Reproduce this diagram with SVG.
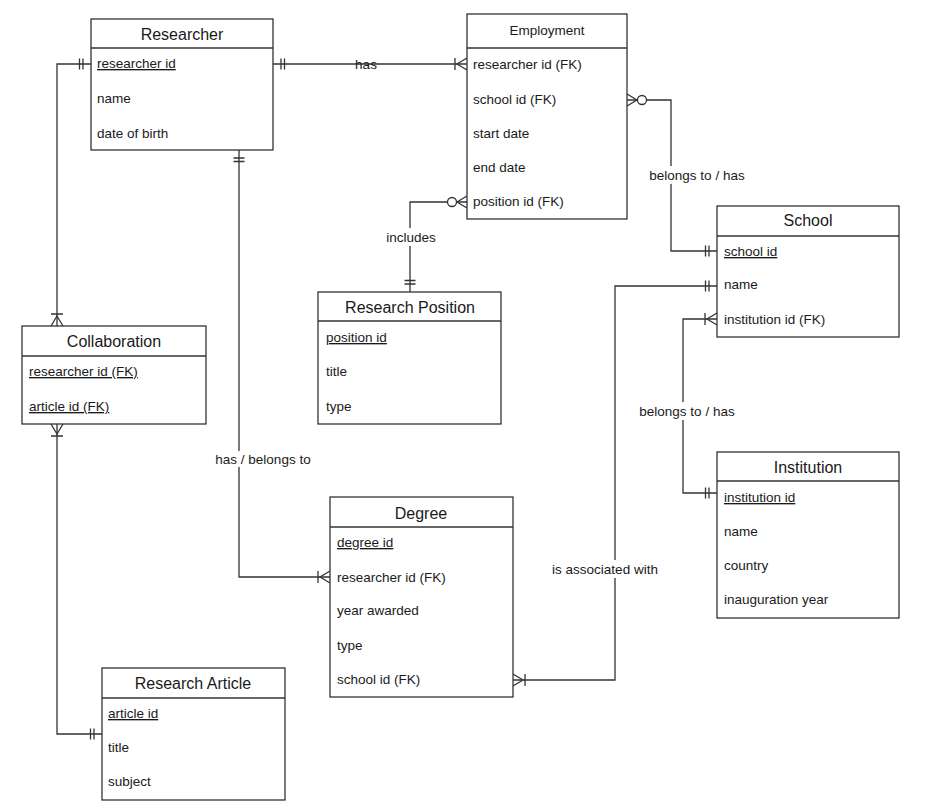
<svg xmlns="http://www.w3.org/2000/svg" width="928" height="812" viewBox="0 0 928 812">
<style>
.box{fill:#fff;stroke:#333;stroke-width:1.3}
.div{stroke:#333;stroke-width:1.3}
.t{font-family:"Liberation Sans",Arial,sans-serif;font-size:16px;fill:#1a1a1a;text-anchor:middle}
.ts{font-family:"Liberation Sans",Arial,sans-serif;font-size:13.5px;fill:#1a1a1a;text-anchor:middle}
.a{font-family:"Liberation Sans",Arial,sans-serif;font-size:13.5px;fill:#1a1a1a}
.u{text-decoration:underline}
.c{fill:none;stroke:#333;stroke-width:1.3}
.lb{font-family:"Liberation Sans",Arial,sans-serif;font-size:13.5px;fill:#1a1a1a;text-anchor:middle}
.bg{fill:#fff}
</style>
<defs>
<marker id="one" markerUnits="userSpaceOnUse" orient="auto-start-reverse" overflow="visible" markerWidth="1" markerHeight="1" refX="0" refY="0">
<path d="M-8,-5.5V5.5M-11.5,-5.5V5.5" fill="none" stroke="#333" stroke-width="1.3"/>
</marker>
<marker id="many1" markerUnits="userSpaceOnUse" orient="auto-start-reverse" overflow="visible" markerWidth="1" markerHeight="1" refX="0" refY="0">
<path d="M0,-6L-10,0L0,6M-12,-6V6" fill="none" stroke="#333" stroke-width="1.3"/>
</marker>
<marker id="many0" markerUnits="userSpaceOnUse" orient="auto-start-reverse" overflow="visible" markerWidth="1" markerHeight="1" refX="0" refY="0">
<path d="M0,-6L-10,0L0,6" fill="none" stroke="#333" stroke-width="1.3"/>
<circle cx="-15" cy="0" r="4.5" fill="#fff" stroke="#333" stroke-width="1.3"/>
</marker>
</defs>

<g id="connectors">
<path class="c" d="M273,64H467" marker-start="url(#one)" marker-end="url(#many1)"/>
<text class="lb" x="366" y="68.5">has</text>

<path class="c" d="M627,100H671V251H717" marker-start="url(#many0)" marker-end="url(#one)"/>
<rect class="bg" x="647" y="166" width="100" height="18"/>
<text class="lb" x="697" y="179.5">belongs to / has</text>

<path class="c" d="M467,202H410V292" marker-start="url(#many0)" marker-end="url(#one)"/>
<rect class="bg" x="386" y="228" width="50" height="18"/>
<text class="lb" x="411" y="241.5">includes</text>

<path class="c" d="M91,64H57V326" marker-start="url(#one)" marker-end="url(#many1)"/>

<path class="c" d="M57,424V734H102" marker-start="url(#many1)" marker-end="url(#one)"/>

<path class="c" d="M239,150V577H330" marker-start="url(#one)" marker-end="url(#many1)"/>
<rect class="bg" x="217" y="451" width="92" height="16"/>
<text class="lb" x="263" y="463.5">has / belongs to</text>

<path class="c" d="M513,680H615V286H717" marker-start="url(#many1)" marker-end="url(#one)"/>
<rect class="bg" x="553" y="560" width="104" height="18"/>
<text class="lb" x="605" y="573.5">is associated with</text>

<path class="c" d="M717,319H683V493H717" marker-start="url(#many1)" marker-end="url(#one)"/>
<rect class="bg" x="637" y="402" width="100" height="18"/>
<text class="lb" x="687" y="415.5">belongs to / has</text>
</g>

<g id="researcher">
<rect class="box" x="91" y="19" width="182" height="131"/>
<line class="div" x1="91" y1="48" x2="273" y2="48"/>
<text class="t" x="182" y="40">Researcher</text>
<text class="a u" x="97" y="68">researcher id</text>
<text class="a" x="97" y="103">name</text>
<text class="a" x="97" y="138">date of birth</text>
</g>

<g id="employment">
<rect class="box" x="467" y="14" width="160" height="205"/>
<line class="div" x1="467" y1="48" x2="627" y2="48"/>
<text class="ts" x="547" y="35">Employment</text>
<text class="a" x="473" y="69">researcher id (FK)</text>
<text class="a" x="473" y="104">school id (FK)</text>
<text class="a" x="473" y="138">start date</text>
<text class="a" x="473" y="172">end date</text>
<text class="a" x="473" y="206">position id (FK)</text>
</g>

<g id="school">
<rect class="box" x="717" y="206" width="182" height="131"/>
<line class="div" x1="717" y1="236" x2="899" y2="236"/>
<text class="t" x="808" y="226">School</text>
<text class="a u" x="724" y="256">school id</text>
<text class="a" x="724" y="289">name</text>
<text class="a" x="724" y="324">institution id (FK)</text>
</g>

<g id="collaboration">
<rect class="box" x="22" y="326" width="184" height="98"/>
<line class="div" x1="22" y1="356" x2="206" y2="356"/>
<text class="t" x="114" y="347">Collaboration</text>
<text class="a u" x="29" y="376">researcher id (FK)</text>
<text class="a u" x="29" y="411">article id (FK)</text>
</g>

<g id="research-position">
<rect class="box" x="318" y="292" width="183" height="132"/>
<line class="div" x1="318" y1="321" x2="501" y2="321"/>
<text class="t" x="410" y="313">Research Position</text>
<text class="a u" x="326" y="342">position id</text>
<text class="a" x="326" y="376">title</text>
<text class="a" x="326" y="411">type</text>
</g>

<g id="degree">
<rect class="box" x="330" y="497" width="183" height="200"/>
<line class="div" x1="330" y1="527" x2="513" y2="527"/>
<text class="t" x="421" y="519">Degree</text>
<text class="a u" x="337" y="547">degree id</text>
<text class="a" x="337" y="582">researcher id (FK)</text>
<text class="a" x="337" y="615">year awarded</text>
<text class="a" x="337" y="650">type</text>
<text class="a" x="337" y="684">school id (FK)</text>
</g>

<g id="institution">
<rect class="box" x="717" y="452" width="182" height="166"/>
<line class="div" x1="717" y1="481" x2="899" y2="481"/>
<text class="t" x="808" y="473">Institution</text>
<text class="a u" x="724" y="502">institution id</text>
<text class="a" x="724" y="536">name</text>
<text class="a" x="724" y="570">country</text>
<text class="a" x="724" y="604">inauguration year</text>
</g>

<g id="research-article">
<rect class="box" x="102" y="668" width="183" height="132"/>
<line class="div" x1="102" y1="698" x2="285" y2="698"/>
<text class="t" x="193" y="689">Research Article</text>
<text class="a u" x="108" y="718">article id</text>
<text class="a" x="108" y="752">title</text>
<text class="a" x="108" y="786">subject</text>
</g>
</svg>
